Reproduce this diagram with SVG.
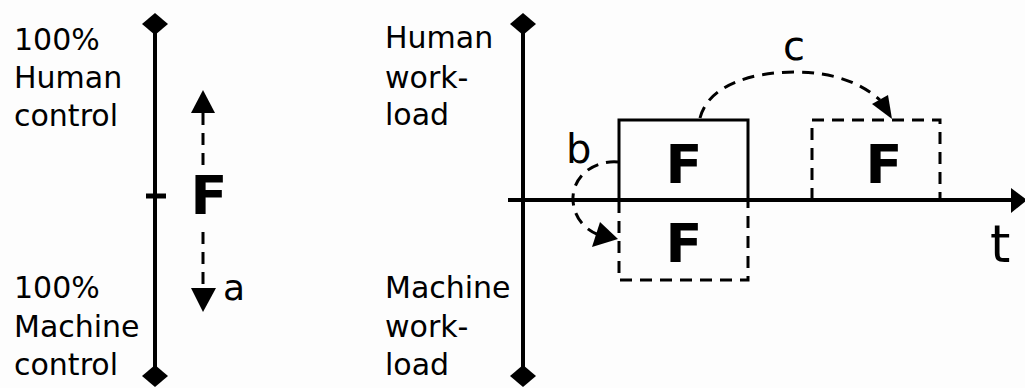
<svg xmlns="http://www.w3.org/2000/svg" width="1025" height="388" viewBox="0 0 1025 388">
<style>
.lbl{font-family:"DejaVu Sans","Liberation Sans",sans-serif;font-size:30px;fill:#000}
.big{font-family:"DejaVu Sans","Liberation Sans",sans-serif;font-size:54px;font-weight:bold;fill:#000}
.ax{stroke:#000;stroke-width:4;fill:none}
.solid{stroke:#000;stroke-width:3;fill:none}
.dash{stroke:#000;stroke-width:3;fill:none;stroke-dasharray:12 8}
.head{fill:#000;stroke:none}
</style>
<rect width="1025" height="388" fill="#fdfdfd"/>
<g id="left-axis">
<line class="ax" x1="155" y1="20" x2="155" y2="380"/>
<polygon class="head" points="155,13 168,24 155,35 142,24"/>
<polygon class="head" points="155,365 168,376 155,387 142,376"/>
<line x1="146" y1="196" x2="166" y2="196" stroke="#000" stroke-width="5"/>
</g>
<g id="left-labels">
<text class="lbl" x="14" y="50">100%</text>
<text class="lbl" x="14" y="88">Human</text>
<text class="lbl" x="14" y="126">control</text>
<text class="lbl" x="14" y="298">100%</text>
<text class="lbl" x="14" y="337">Machine</text>
<text class="lbl" x="14" y="375">control</text>
</g>
<g id="node-F-left">
<text class="big" x="209" y="214" text-anchor="middle">F</text>
</g>
<g id="right-axis">
<line class="ax" x1="523" y1="20" x2="523" y2="380"/>
<polygon class="head" points="523,13 536,24 523,35 510,24"/>
<polygon class="head" points="523,365 536,376 523,387 510,376"/>
<line class="ax" x1="508" y1="200" x2="1014" y2="200"/>
<polygon class="head" points="1011,188 1027,200 1011,213"/>
</g>
<g id="right-labels">
<text class="lbl" x="385" y="48">Human</text>
<text class="lbl" x="385" y="88">work-</text>
<text class="lbl" x="385" y="125">load</text>
<text class="lbl" x="385" y="298">Machine</text>
<text class="lbl" x="385" y="337">work-</text>
<text class="lbl" x="385" y="375">load</text>
<text class="lbl" x="990" y="262" style="font-size:52px">t</text>
</g>
<g id="node-F-human">
<polyline class="solid" points="619,200 619,120 748,120 748,200"/>
<text class="big" x="684" y="183" text-anchor="middle">F</text>
</g>
<g id="node-F-machine">
<polyline class="dash" points="619,201 619,280 748,280 748,201"/>
<text class="big" x="684" y="262" text-anchor="middle">F</text>
</g>
<g id="node-F-later">
<polyline class="dash" points="812,200 812,120 940,120 940,200"/>
<text class="big" x="884" y="183" text-anchor="middle">F</text>
</g>
<g id="connectors">
<line class="dash" x1="203" y1="113" x2="203" y2="170" stroke-dasharray="10 13 18 12 2 100"/>
<polygon class="head" points="203,90 215,113 191,113"/>
<line class="dash" x1="203" y1="232" x2="203" y2="288" stroke-dasharray="18 10 16 100"/>
<polygon class="head" points="191,288 216,288 203,312"/>
<text class="lbl" x="223" y="300" style="font-size:36px">a</text>
<path class="dash" d="M618,162 C592,160 572,178 573,200 C574,220 588,232 602,236"/>
<polygon class="head" points="600,222 618,239 592,247"/>
<text class="lbl" x="566" y="163" style="font-size:40px">b</text>
<path class="dash" d="M700,118 C708,86 750,72 795,72 C835,72 862,84 880,100"/>
<polygon class="head" points="872,104 888,95 892,119"/>
<text class="lbl" x="783" y="60" style="font-size:40px">c</text>
</g>
</svg>
